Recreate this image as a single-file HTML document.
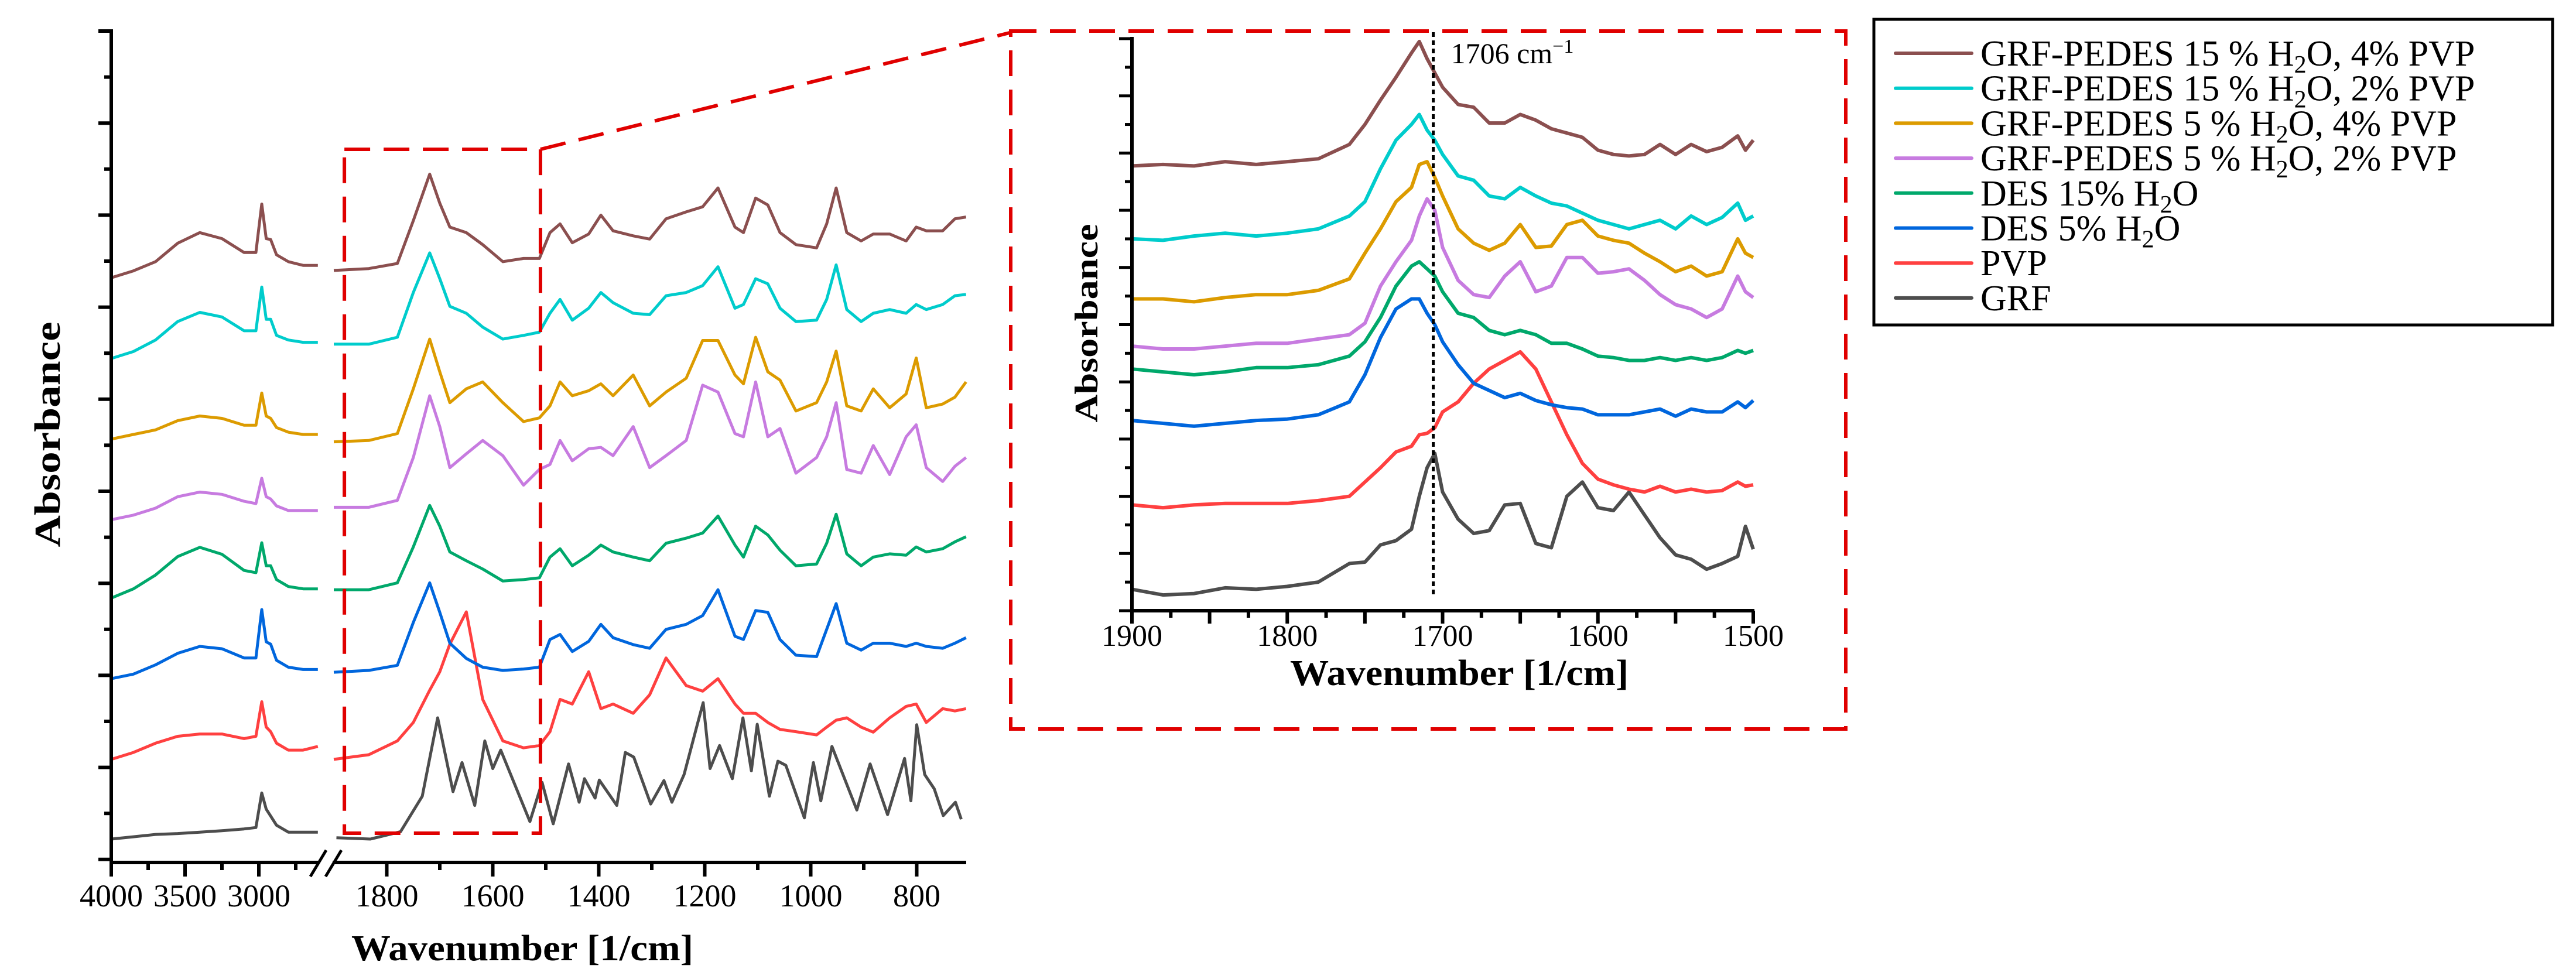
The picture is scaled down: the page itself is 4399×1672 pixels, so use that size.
<!DOCTYPE html>
<html><head><meta charset="utf-8"><style>
html,body{margin:0;padding:0;background:#fff;}
svg{display:block;font-family:"Liberation Serif",serif;}
</style></head><body>
<svg id="chart" width="4399" height="1672" viewBox="0 0 4399 1672" xmlns="http://www.w3.org/2000/svg">
<g id="main"></g>
<g id="inset"></g>
<g id="legend"></g>
</svg>
<script>
// ---------- data ----------
const seriesNames = ["GRF-PEDES 15 % H2O, 4% PVP","GRF-PEDES 15 % H2O, 2% PVP","GRF-PEDES 5 % H2O, 4% PVP","GRF-PEDES 5 % H2O, 2% PVP","DES 15% H2O","DES 5% H2O","PVP","GRF"];
const seriesKeys = ["brown","cyan","orange","purple","green","blue","red","gray"];
const seriesColors = ["#8b4f4f","#00cccc","#dc9b00","#c77be0","#00a86b","#0066dd","#ff4040","#4d4d4d"];

// main panel, high-wavenumber segment
const wnLeft = [4000,3850,3700,3550,3400,3250,3100,3020,2980,2950,2920,2880,2800,2700,2600];
const leftBrown  = [12.65,12.8,13.0,13.4,13.63,13.5,13.2,13.2,14.25,13.5,13.48,13.15,13.0,12.92,12.92];
const leftCyan   = [10.9,11.05,11.3,11.7,11.9,11.8,11.5,11.5,12.45,11.75,11.75,11.4,11.3,11.25,11.25];
const leftOrange = [9.15,9.25,9.35,9.55,9.65,9.6,9.45,9.45,10.15,9.65,9.6,9.4,9.3,9.25,9.25];
const leftPurple = [7.4,7.5,7.65,7.9,8.0,7.95,7.8,7.75,8.3,7.9,7.85,7.7,7.6,7.6,7.6];
const leftGreen  = [5.7,5.9,6.2,6.6,6.8,6.65,6.3,6.25,6.9,6.4,6.4,6.1,5.95,5.9,5.9];
const leftBlue   = [3.95,4.05,4.25,4.5,4.65,4.6,4.4,4.4,5.45,4.75,4.7,4.35,4.2,4.15,4.15];
const leftRed    = [2.2,2.35,2.55,2.7,2.75,2.75,2.65,2.7,3.45,2.9,2.8,2.55,2.4,2.4,2.48];
const leftGray   = [0.47,0.52,0.57,0.59,0.62,0.65,0.69,0.72,1.47,1.12,0.97,0.77,0.62,0.62,0.62];

// main panel, fingerprint segment
const wnRight = [1900,1834,1780,1750,1719,1700,1681,1650,1619,1581,1542,1512,1492,1473,1450,1419,1396,1373,1335,1304,1273,1235,1204,1175,1143,1127,1104,1081,1058,1028,989,970,952,932,905,882,851,820,801,782,751,728,707];
const rightBrown  = [12.81,12.85,12.96,13.89,14.9,14.27,13.75,13.63,13.37,13.0,13.07,13.07,13.63,13.82,13.41,13.6,14.01,13.67,13.56,13.49,13.93,14.08,14.19,14.6,13.75,13.63,14.38,14.23,13.63,13.37,13.3,13.82,14.6,13.63,13.45,13.6,13.6,13.45,13.75,13.67,13.67,13.93,13.97];
const rightCyan   = [11.21,11.21,11.36,12.33,13.19,12.63,12.03,11.88,11.58,11.32,11.4,11.47,11.88,12.18,11.73,11.99,12.33,12.11,11.88,11.85,12.26,12.33,12.48,12.89,11.99,12.07,12.63,12.52,11.99,11.7,11.73,12.18,12.93,11.96,11.7,11.88,11.96,11.88,12.07,11.96,12.07,12.26,12.29];
const rightOrange = [9.09,9.12,9.27,10.24,11.32,10.61,9.94,10.24,10.39,9.94,9.53,9.61,9.87,10.39,10.09,10.2,10.35,10.09,10.54,9.87,10.17,10.47,11.29,11.29,10.54,10.35,11.36,10.61,10.43,9.76,9.94,10.39,11.06,9.87,9.76,10.24,9.83,10.13,10.91,9.83,9.91,10.06,10.39];
const rightPurple = [7.67,7.67,7.82,8.75,10.09,9.42,8.53,8.83,9.12,8.79,8.15,8.49,8.6,9.12,8.68,8.94,8.97,8.79,9.42,8.53,8.79,9.12,10.32,10.17,9.27,9.2,10.39,9.2,9.38,8.41,8.75,9.2,9.94,8.49,8.41,9.01,8.38,9.2,9.46,8.53,8.23,8.56,8.75];
const rightGreen  = [5.88,5.88,6.03,6.81,7.71,7.26,6.7,6.51,6.33,6.07,6.1,6.14,6.59,6.77,6.4,6.63,6.85,6.7,6.59,6.51,6.89,7.0,7.11,7.48,6.85,6.59,7.26,7.07,6.74,6.4,6.44,6.89,7.52,6.66,6.4,6.59,6.66,6.63,6.81,6.7,6.77,6.92,7.03];
const rightBlue   = [4.09,4.13,4.24,5.17,6.03,5.39,4.72,4.39,4.2,4.13,4.16,4.2,4.8,4.91,4.54,4.76,5.13,4.84,4.69,4.61,5.02,5.13,5.32,5.88,4.87,4.8,5.43,5.39,4.8,4.46,4.43,5.02,5.58,4.72,4.57,4.72,4.72,4.65,4.72,4.65,4.61,4.72,4.84];
const rightRed    = [2.2,2.3,2.6,3.0,3.7,4.1,4.7,5.4,3.5,2.6,2.45,2.5,2.8,3.5,3.4,4.1,3.3,3.4,3.2,3.6,4.4,3.8,3.68,3.95,3.4,3.2,3.2,3.0,2.85,2.8,2.73,2.9,3.05,3.1,2.9,2.79,3.1,3.35,3.4,3.0,3.3,3.25,3.3];
const wnGray = [1895,1831,1774,1733,1704,1675,1658,1634,1615,1600,1585,1530,1507,1486,1457,1437,1427,1407,1399,1366,1350,1334,1302,1277,1262,1239,1213,1203,1190,1172,1148,1128,1112,1101,1078,1062,1047,1012,995,981,960,913,888,855,823,811,800,785,767,750,727,716];
const rightGray = [0.5,0.47,0.63,1.4,3.1,1.5,2.13,1.2,2.6,2.0,2.4,0.85,1.7,0.8,2.1,1.27,1.78,1.36,1.75,1.2,2.35,2.25,1.23,1.74,1.27,1.87,3.0,3.43,2.0,2.5,1.78,3.1,1.95,2.96,1.4,2.16,2.07,0.93,2.13,1.3,2.48,1.1,2.1,1.0,2.22,1.3,2.95,1.87,1.56,0.98,1.27,0.9];

// inset (1900-1500 cm-1)
const wnInset = [1900,1880,1860,1840,1820,1800,1780,1760,1750,1740,1730,1720,1715,1710,1705,1700,1690,1680,1670,1660,1650,1640,1630,1620,1610,1600,1590,1580,1570,1560,1550,1540,1530,1520,1510,1505,1500];
const insetBrown  = [15.55,15.6,15.55,15.7,15.6,15.7,15.8,16.3,17.0,17.85,18.65,19.5,19.9,19.3,18.8,18.3,17.7,17.6,17.05,17.05,17.35,17.15,16.85,16.7,16.55,16.1,15.95,15.9,15.95,16.3,15.95,16.3,16.05,16.2,16.6,16.1,16.45];
const insetCyan   = [13.0,12.95,13.1,13.2,13.1,13.2,13.35,13.8,14.3,15.45,16.45,17.0,17.35,16.8,16.45,15.95,15.2,15.05,14.5,14.4,14.8,14.5,14.25,14.15,13.9,13.65,13.5,13.35,13.5,13.65,13.35,13.8,13.5,13.75,14.25,13.65,13.8];
const insetOrange = [10.9,10.9,10.8,10.95,11.05,11.05,11.2,11.6,12.5,13.35,14.3,14.8,15.6,15.7,15.15,14.5,13.35,12.85,12.6,12.85,13.5,12.7,12.75,13.5,13.65,13.1,12.95,12.85,12.5,12.2,11.85,12.05,11.7,11.85,13.0,12.5,12.35];
const insetPurple = [9.25,9.15,9.15,9.25,9.35,9.35,9.5,9.65,10.05,11.35,12.2,12.95,13.8,14.4,14.0,12.7,11.55,11.05,10.95,11.7,12.2,11.15,11.35,12.35,12.35,11.8,11.85,11.95,11.55,11.05,10.7,10.55,10.25,10.55,11.7,11.15,10.95];
const insetGreen  = [8.45,8.35,8.25,8.35,8.5,8.5,8.6,8.9,9.4,10.25,11.35,12.05,12.2,11.95,11.7,11.15,10.4,10.25,9.8,9.65,9.8,9.65,9.35,9.35,9.15,8.9,8.85,8.75,8.75,8.85,8.75,8.85,8.75,8.85,9.1,9.0,9.1];
const insetBlue   = [6.65,6.55,6.45,6.55,6.65,6.7,6.85,7.3,8.25,9.55,10.55,10.9,10.9,10.4,10.0,9.4,8.6,7.95,7.7,7.45,7.6,7.35,7.2,7.1,7.05,6.85,6.85,6.85,6.95,7.05,6.8,7.05,6.95,6.95,7.3,7.1,7.35];
const insetRed    = [3.7,3.6,3.7,3.75,3.75,3.75,3.85,4.0,4.5,5.0,5.55,5.75,6.15,6.2,6.4,6.95,7.3,7.95,8.45,8.75,9.05,8.45,7.3,6.15,5.15,4.6,4.4,4.25,4.15,4.35,4.15,4.25,4.15,4.2,4.5,4.35,4.4];
const insetGray   = [0.75,0.55,0.6,0.8,0.75,0.85,1.0,1.65,1.7,2.3,2.45,2.85,4.0,5.0,5.5,4.15,3.2,2.7,2.8,3.7,3.75,2.35,2.2,4.0,4.5,3.6,3.5,4.15,3.35,2.55,1.95,1.8,1.45,1.65,1.9,2.95,2.15];

const mainLeftTicks = [4000,3500,3000];
const mainLeftMinor = [3750,3250,2750];
const mainRightTicks = [1800,1600,1400,1200,1000,800];
const mainRightMinor = [1700,1500,1300,1100,900];
const insetTicks = [1900,1800,1700,1600,1500];
const markerWn = [1706];

// ---------- axes ----------
const NS = "http://www.w3.org/2000/svg";
function xMain(w){ return w >= 2000 ? 190 + (4000 - w) * 0.252 : 570 + (1900 - w) * 0.905; }
function yMain(v){ return 1470 - v * 78.7; }
function xIn(w){ return 1933 + (1900 - w) * 2.6525; }
function yIn(v){ return 1043 - v * 48.85; }
function mk(tag, attrs, parent){ const e = document.createElementNS(NS, tag); for (const k in attrs) e.setAttribute(k, attrs[k]); parent.appendChild(e); return e; }
function pathFrom(ws, vs, fx, fy){ return ws.map((w,i)=>(i?"L":"M")+fx(w).toFixed(1)+","+fy(vs[i]).toFixed(1)).join(""); }

const main = document.getElementById("main");
const inset = document.getElementById("inset");
const legend = document.getElementById("legend");

const leftData = [leftBrown,leftCyan,leftOrange,leftPurple,leftGreen,leftBlue,leftRed,leftGray];
const rightData = [rightBrown,rightCyan,rightOrange,rightPurple,rightGreen,rightBlue,rightRed,rightGray];
const insetData = [insetBrown,insetCyan,insetOrange,insetPurple,insetGreen,insetBlue,insetRed,insetGray];

// main series (draw bottom first)
for (let i = 7; i >= 0; i--) {
  const wsR = i === 7 ? wnGray : wnRight;
  const p1 = mk("path", {d: pathFrom(wnLeft, leftData[i], xMain, yMain), fill:"none", stroke:seriesColors[i], "stroke-width":5, "stroke-linejoin":"round"}, main);
  
  
  const p2 = mk("path", {d: pathFrom(wsR, rightData[i], xMain, yMain), fill:"none", stroke:seriesColors[i], "stroke-width":5, "stroke-linejoin":"round"}, main);
  
  
}

// main axes
const axY = mk("line", {x1:190, y1:50, x2:190, y2:1476, stroke:"#000", "stroke-width":6}, main);


const axX1 = mk("line", {x1:187, y1:1473, x2:543, y2:1473, stroke:"#000", "stroke-width":6}, main);


const axX2 = mk("line", {x1:568, y1:1473, x2:1650, y2:1473, stroke:"#000", "stroke-width":6}, main);


for (let k = 0; k <= 18; k++) {
  const y = 53 + k * 78.6;
  const len = k % 2 === 0 ? 22 : 12;
  const t = mk("line", {x1:190-len, y1:y, x2:190, y2:y, stroke:"#000", "stroke-width":6}, main);
  
  
}
function xTick(parent, x, y0, len, name){ const t = mk("line", {x1:x, y1:y0, x2:x, y2:y0+len, stroke:"#000", "stroke-width":6}, parent);   }
mainLeftTicks.concat(mainRightTicks).forEach(w => xTick(main, xMain(w), 1473, 24, 'main-x-tick-major'));
mainLeftMinor.concat(mainRightMinor).forEach(w => xTick(main, xMain(w), 1473, 13, 'main-x-tick-minor'));
mainLeftTicks.concat(mainRightTicks).forEach(w => {
  const t = mk("text", {x:xMain(w), y:1548, "text-anchor":"middle", "font-size":54}, main);
  t.textContent = w;
  
  
});
// axis break
const br = mk("path", {d:"M530,1497L557,1452M556,1497L583,1452", stroke:"#000", "stroke-width":5, fill:"none"}, main);


const mxt = mk("text", {x:892, y:1640, "text-anchor":"middle", "font-size":62, "font-weight":"bold", textLength:584, lengthAdjust:"spacingAndGlyphs"}, main);
mxt.textContent = "Wavenumber [1/cm]";


const myt = mk("text", {x:0, y:0, "text-anchor":"middle", "font-size":62, "font-weight":"bold", transform:"translate(102,742) rotate(-90)", textLength:385, lengthAdjust:"spacingAndGlyphs"}, main);
myt.textContent = "Absorbance";


// zoom box and connector
const zb = mk("rect", {x:xMain(1880), y:255, width:xMain(1510)-xMain(1880), height:1168, fill:"none", stroke:"#e00000", "stroke-width":6, "stroke-dasharray":"44 23"}, main);


const cn = mk("line", {x1:xMain(1510), y1:255, x2:1724, y2:56, stroke:"#e00000", "stroke-width":6, "stroke-dasharray":"44 23"}, main);



// ---------- inset ----------
const ib = mk("rect", {x:1726, y:53, width:1426, height:1192, fill:"none", stroke:"#e00000", "stroke-width":6, "stroke-dasharray":"44 23"}, inset);


for (let i = 7; i >= 0; i--) {
  const p = mk("path", {d: pathFrom(wnInset, insetData[i], xIn, yIn), fill:"none", stroke:seriesColors[i], "stroke-width":6, "stroke-linejoin":"round"}, inset);
  
  
}
const iy = mk("line", {x1:1933, y1:63, x2:1933, y2:1046, stroke:"#000", "stroke-width":6}, inset);


const ix = mk("line", {x1:1930, y1:1043, x2:2996, y2:1043, stroke:"#000", "stroke-width":6}, inset);


for (let k = 0; k <= 20; k++) {
  const y = 1043 - k * 48.85;
  const len = k % 2 === 0 ? 22 : 12;
  const t = mk("line", {x1:1933-len, y1:y, x2:1933, y2:y, stroke:"#000", "stroke-width":5}, inset);
  
  
}
for (let w = 1900; w >= 1500; w -= 25) {
  xTick(inset, xIn(w), 1043, w % 50 === 0 ? 22 : 12, w % 100 === 0 ? 'inset-x-tick-major' : 'inset-x-tick-minor');
}
insetTicks.forEach(w => {
  const t = mk("text", {x:xIn(w), y:1103, "text-anchor":"middle", "font-size":52}, inset);
  t.textContent = w;
  
  
});
const ixt = mk("text", {x:2492, y:1170, "text-anchor":"middle", "font-size":62, "font-weight":"bold", textLength:578, lengthAdjust:"spacingAndGlyphs"}, inset);
ixt.textContent = "Wavenumber [1/cm]";


const iyt = mk("text", {x:0, y:0, "text-anchor":"middle", "font-size":56, "font-weight":"bold", transform:"translate(1874,552) rotate(-90)", textLength:339, lengthAdjust:"spacingAndGlyphs"}, inset);
iyt.textContent = "Absorbance";


markerWn.forEach(w => {
  const l = mk("line", {x1:xIn(w), y1:55, x2:xIn(w), y2:1017, stroke:"#000", "stroke-width":5, "stroke-dasharray":"8 6"}, inset);
  
  
  const t = mk("text", {x:xIn(w)+30, y:108, "font-size":50}, inset);
  t.innerHTML = w + ' cm<tspan dy="-18" font-size="34">−1</tspan>';
  
  
});

// ---------- legend ----------
const lb = mk("rect", {x:3200, y:33, width:1159, height:522, fill:"#fff", stroke:"#000", "stroke-width":5}, legend);


const legendLabels = [
  'GRF-PEDES 15 % H<tspan font-size="42" dy="12">2</tspan><tspan dy="-12">O, 4% PVP</tspan>',
  'GRF-PEDES 15 % H<tspan font-size="42" dy="12">2</tspan><tspan dy="-12">O, 2% PVP</tspan>',
  'GRF-PEDES 5 % H<tspan font-size="42" dy="12">2</tspan><tspan dy="-12">O, 4% PVP</tspan>',
  'GRF-PEDES 5 % H<tspan font-size="42" dy="12">2</tspan><tspan dy="-12">O, 2% PVP</tspan>',
  'DES 15% H<tspan font-size="42" dy="12">2</tspan><tspan dy="-12">O</tspan>',
  'DES 5% H<tspan font-size="42" dy="12">2</tspan><tspan dy="-12">O</tspan>',
  'PVP','GRF'];
for (let i = 0; i < 8; i++) {
  const y = 91 + i * 59.7;
  const g = mk("g", {}, legend);
  
  
  const l = mk("line", {x1:3237, y1:y, x2:3367, y2:y, stroke:seriesColors[i], "stroke-width":6, "stroke-linecap":"round"}, g);
  
  
  const t = mk("text", {x:3382, y:y+21, "font-size":62}, g);
  t.innerHTML = legendLabels[i];
  
  
}
</script>
</body></html>
